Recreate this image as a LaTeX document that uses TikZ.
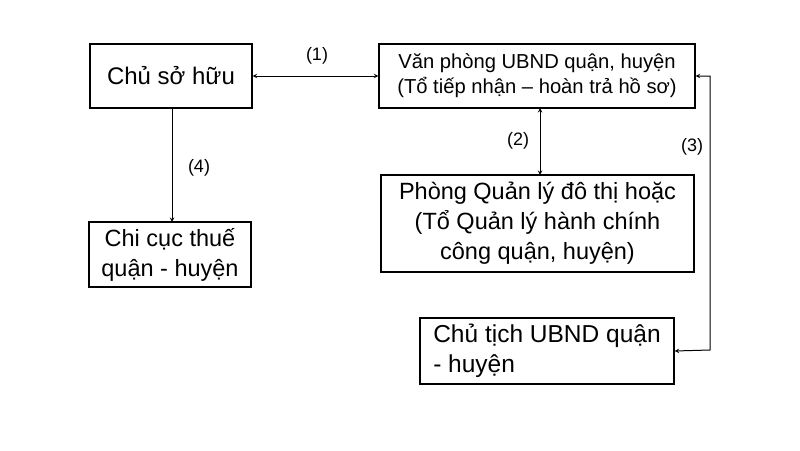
\documentclass[tikz,border=0pt]{standalone}
\usepackage{fontspec}
\setmainfont{Liberation Sans}
\begin{document}
\begin{tikzpicture}[x=1pt,y=-1pt,
  box/.style={draw,line width=1.3pt,inner sep=0pt,align=center},
  arr/.style={line width=1pt,-stealth},
  darr/.style={line width=1pt,stealth-stealth},
  lab/.style={font=\fontsize{18}{22}\selectfont}]
\useasboundingbox (0,0) rectangle (800,450);
\node[box,minimum width=162pt,minimum height=64pt,font=\fontsize{24}{29}\selectfont] (a) at (171,76) {Chủ sở hữu};
\node[box,minimum width=316pt,minimum height=64pt,font=\fontsize{20.2}{25}\selectfont] (b) at (537,76) {Văn phòng UBND quận, huyện\\(Tổ tiếp nhận – hoàn trả hồ sơ)};
\node[box,minimum width=313pt,minimum height=97pt,font=\fontsize{23.5}{30}\selectfont] (c) at (537.5,223.5) {Phòng Quản lý đô thị hoặc\\(Tổ Quản lý hành chính\\công quận, huyện)};
\node[box,minimum width=162pt,minimum height=65pt,font=\fontsize{23.5}{30}\selectfont] (d) at (170,254.5) {Chi cục thuế\\quận - huyện};
\node[box,minimum width=254pt,minimum height=66pt,font=\fontsize{24.5}{30}\selectfont,align=left] (e) at (547,351) {Chủ tịch UBND quận\\- huyện};
\draw[darr] (a.east) -- (b.west);
\draw[darr] (540,108) -- (540,175);
\coordinate (k1) at (710,76);
\coordinate (k2) at (710,350);
\draw[darr] (b.east) -- (k1) -- (k2) -- (e.east);
\draw[arr] (172,108) -- (172,222);
\node[lab] (l1) at (317,56) {(1)};
\node[lab] (l2) at (518,141) {(2)};
\node[lab] (l3) at (692,147) {(3)};
\node[lab] (l4) at (199,168) {(4)};
\end{tikzpicture}
\end{document}
